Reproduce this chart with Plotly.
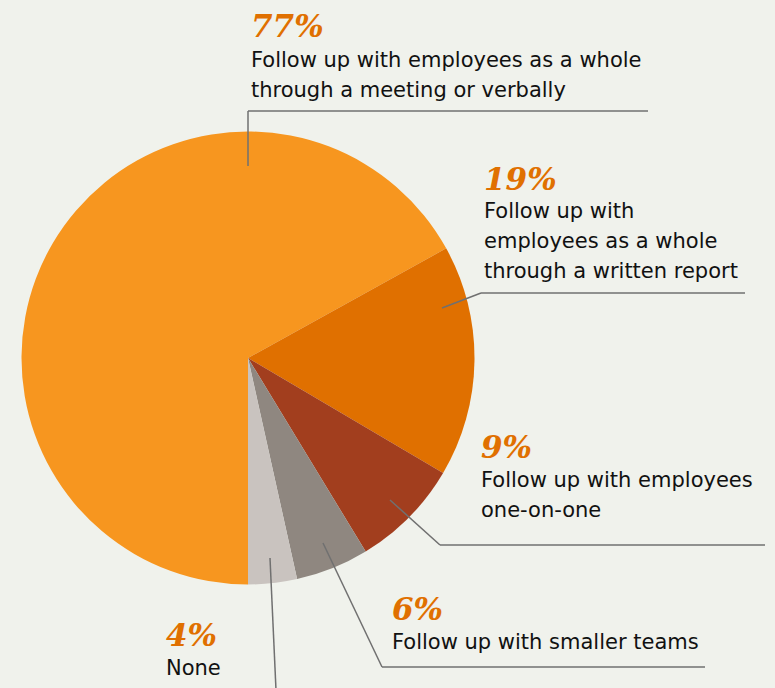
import plotly.graph_objects as go

# ---- data ----
percents = [77, 19, 9, 6, 4]
pct_labels = ["77%", "19%", "9%", "6%", "4%"]
labels = [
    ["Follow up with employees as a whole", "through a meeting or verbally"],
    ["Follow up with", "employees as a whole", "through a written report"],
    ["Follow up with employees", "one-on-one"],
    ["Follow up with smaller teams"],
    ["None"],
]
colors = ["#F7961F", "#E07000", "#A23E1E", "#8F8780", "#C9C3BF"]

W, H = 775, 688
BG = "#F0F2EC"

def px(x):
    return x / W

def py(y):
    return 1 - y / H

# pie placement (pixels)
cx, cy, r = 248, 358, 226.5

fig = go.Figure()
fig.add_trace(go.Pie(
    values=percents,
    labels=[" ".join(l) for l in labels],
    marker=dict(colors=colors, line=dict(width=0)),
    sort=False,
    direction="clockwise",
    rotation=180,
    textinfo="none",
    hoverinfo="label+text",
    text=pct_labels,
    showlegend=False,
    domain=dict(x=[px(cx - r), px(cx + r)], y=[py(cy + r), py(cy - r)]),
))

# label layout (pixels): x of text left, baseline of percent, baseline of first label line
label_pos = [
    (251, 36, 67),
    (484, 189, 218),
    (481, 457, 487),
    (392, 619, 649),
    (166, 645, 675),
]
line_gap = 30
PCT_FS = 31
LAB_FS = 21

annotations = []
for i, (x0, pb, lb) in enumerate(label_pos):
    annotations.append(dict(
        x=px(x0 - 2), y=py(pb - 0.33 * PCT_FS), xref="paper", yref="paper",
        xanchor="left", yanchor="middle", showarrow=False,
        text="<b><i>" + pct_labels[i] + "</i></b>",
        font=dict(family="DejaVu Serif", size=PCT_FS, color="#E07000"),
    ))
    for j, line in enumerate(labels[i]):
        b = lb + j * line_gap
        annotations.append(dict(
            x=px(x0 - 2), y=py(b - 0.33 * LAB_FS), xref="paper", yref="paper",
            xanchor="left", yanchor="middle", showarrow=False,
            text=line,
            font=dict(family="DejaVu Sans", size=LAB_FS, color="#111111"),
        ))

# leader lines (pixels)
leaders = [
    [(248, 166), (248, 111), (648, 111)],
    [(442, 308), (481, 293), (745, 293)],
    [(390, 500), (440, 545), (765, 545)],
    [(323, 543), (382, 667), (705, 667)],
    [(270, 558), (276, 690)],
]
shapes = []
for pts in leaders:
    for (x1, y1), (x2, y2) in zip(pts[:-1], pts[1:]):
        shapes.append(dict(
            type="line", xref="paper", yref="paper",
            x0=px(x1), y0=py(y1), x1=px(x2), y1=py(y2),
            line=dict(color="#707070", width=1.5),
        ))

fig.update_layout(
    width=W, height=H,
    margin=dict(l=0, r=0, t=0, b=0),
    paper_bgcolor=BG, plot_bgcolor=BG,
    annotations=annotations,
    shapes=shapes,
)

fig.write_html(
    "out.html",
    config={"displayModeBar": False},
    post_script="document.body.style.margin='0';document.body.style.background='%s';" % BG,
)
